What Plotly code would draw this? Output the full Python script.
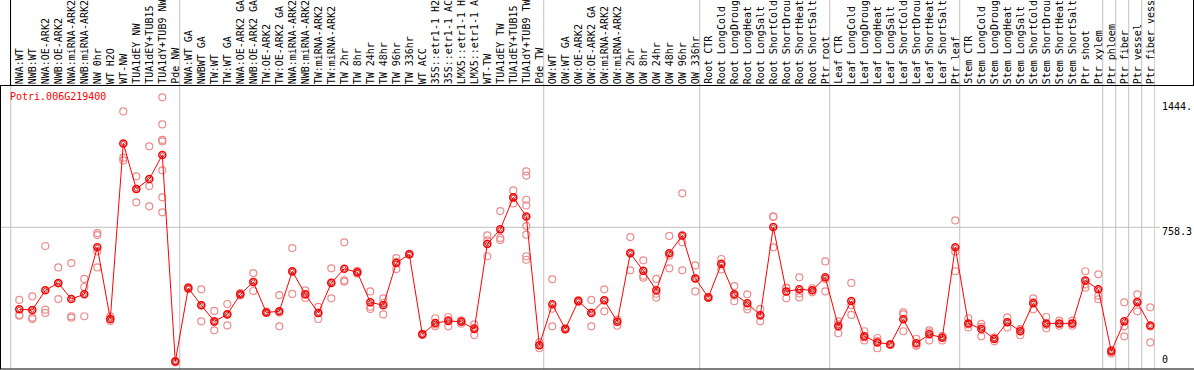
import plotly.graph_objects as go

W, H = 1194, 370

categories = [
    "NWA:WT", "NWB:WT", "NWA:OE-ARK2", "NWB:OE-ARK2", "NWA:miRNA-ARK2", "NWB:miRNA-ARK2",
    "NW 0hr", "WT H2O", "WT-NW", "TUA1dEY NW", "TUA1dEY+TUB15 NW", "TUA1dY+TUB9 NW", "Pde NW",
    "NWA:WT GA", "NWBWT GA", "TW:WT", "TW:WT GA", "NWA:OE-ARK2 GA", "NWB:OE-ARK2 GA",
    "TW:OE-ARK2", "TW:OE-ARK2 GA", "NWA:miRNA-ARK2 GA", "NWB:miRNA-ARK2 GA", "TW:miRNA-ARK2",
    "TW:miRNA-ARK2 GA", "TW 2hr", "TW 8hr", "TW 24hr", "TW 48hr", "TW 96hr", "TW 336hr", "WT ACC",
    "35S::etr1-1 H2O", "35S::etr1-1 ACC", "LMX5::etr1-1 H2O", "LMX5::etr1-1 ACC", "WT-TW",
    "TUA1dEY TW", "TUA1dEY+TUB15 TW", "TUA1dY+TUB9 TW", "Pde TW",
    "OW:WT", "OW:WT GA", "OW:OE-ARK2", "OW:OE-ARK2 GA", "OW:miRNA-ARK2", "OW:miRNA-ARK2 GA",
    "OW 2hr", "OW 8hr", "OW 24hr", "OW 48hr", "OW 96hr", "OW 336hr",
    "Root CTR", "Root LongCold", "Root LongDrought", "Root LongHeat", "Root LongSalt",
    "Root ShortCold", "Root ShortDrought", "Root ShortHeat", "Root ShortSalt", "Ptr root",
    "Leaf CTR", "Leaf LongCold", "Leaf LongDrought", "Leaf LongHeat", "Leaf LongSalt",
    "Leaf ShortCold", "Leaf ShortDrought", "Leaf ShortHeat", "Leaf ShortSalt", "Ptr leaf",
    "Stem CTR", "Stem LongCold", "Stem LongDrought", "Stem LongHeat", "Stem LongSalt",
    "Stem ShortCold", "Stem ShortDrought", "Stem ShortHeat", "Stem ShortSalt", "Ptr shoot", "Ptr xylem",
    "Ptr phloem", "Ptr fiber", "Ptr vessel", "Ptr fiber vessel",
]

mean_values = [
    310, 306, 414, 454, 366, 392, 649, 257, 1217, 968, 1022, 1154, 24,
    426, 332, 244, 282, 392, 459, 293, 299, 518, 392, 290, 454, 532, 512, 348, 332, 563, 611,
    173, 235, 246, 242, 202, 667, 747, 922, 818, 113,
    337, 202, 355, 290, 359, 242, 616, 521, 414, 616, 714, 479,
    375, 558, 392, 343, 277, 760, 408, 419, 414, 485,
    217, 355, 162, 129, 118, 255, 124, 173, 155, 649,
    233, 202, 148, 239, 190, 343, 233, 233, 233, 468, 419,
    80, 244, 348, 222,
]

replicates = [
    [361, 279, 275], [381, 264, 257], [656, 308, 290], [539, 366, 452], [563, 272, 264],
    [476, 432, 272], [727, 716, 627, 539], [272, 246, 255], [1392, 1139, 1124], [1037, 895, 968],
    [1201, 984, 873], [1469, 1321, 1236, 1228, 1070, 922, 840], [20, 26, 27],
    [432, 420, 426], [419, 244, 332], [301, 195, 240], [339, 222, 285], [399, 385, 392],
    [508, 410, 459], [290, 298, 291], [388, 217, 292], [645, 394, 515], [414, 372, 390],
    [323, 257, 290], [534, 370, 458], [676, 468, 461], [505, 520, 511], [408, 312, 324],
    [370, 282, 344], [590, 530, 569], [609, 613, 611], [169, 176, 174], [261, 217, 227],
    [268, 217, 253], [249, 231, 246], [228, 169, 209], [714, 600, 687], [847, 700, 689],
    [960, 889, 917], [1064, 1041, 909, 878, 765, 718, 600, 581], [129, 97, 113],
    [474, 313, 217], [202, 198, 206], [350, 360, 355], [361, 217, 292], [419, 299, 359],
    [253, 220, 253], [705, 523, 620], [578, 494, 483], [476, 395, 374], [711, 534, 603],
    [944, 676, 523], [550, 408, 479],
    [372, 378, 375], [585, 528, 561], [437, 354, 385], [392, 310, 327], [312, 244, 275],
    [818, 815, 649], [428, 370, 426], [485, 375, 397], [425, 403, 414], [572, 408, 475],
    [228, 179, 244], [454, 279, 332], [190, 140, 156], [153, 97, 137], [118, 120, 116],
    [293, 190, 282], [149, 111, 112], [195, 140, 184], [162, 140, 163], [796, 625, 518],
    [261, 211, 227], [230, 162, 214], [157, 135, 152], [266, 211, 240], [202, 168, 200],
    [370, 310, 349], [268, 206, 225], [248, 220, 231], [248, 220, 231], [518, 446, 428],
    [501, 385, 365],
    [87, 69, 84], [348, 217, 162], [392, 299, 353], [321, 129, 216],
]

group_starts = [0, 13, 41, 53, 63, 73, 84, 85, 86, 87, 88]
tick_labels = ["0", "758.3", "1444."]
tick_values = [0, 758.3, 1444]
gene_name = "Potri.006G219400"

# ---- layout geometry (pixels) ----
X0_PX, DX_PX = 19.3, 13.0          # pixel of category 0 and spacing
PLOT_L, PLOT_R = 1, 1155
PLOT_T, PLOT_B = 85, 369
Y_ZERO_PX, Y_SCALE = 366.0, 0.1829  # pixel of value 0, pixels per unit

def px(x):
    return x / W

def py(y):
    return 1 - y / H

x_lo = (PLOT_L - X0_PX) / DX_PX
x_hi = (PLOT_R - X0_PX) / DX_PX
y_lo = (Y_ZERO_PX - PLOT_B) / Y_SCALE
y_hi = (Y_ZERO_PX - PLOT_T) / Y_SCALE

idx = list(range(len(categories)))
rep_x, rep_y = [], []
for i, reps in enumerate(replicates):
    for v in reps:
        rep_x.append(i)
        rep_y.append(v)

fig = go.Figure()
fig.add_trace(go.Scatter(
    x=rep_x, y=rep_y, mode="markers",
    marker=dict(symbol="circle-open", size=7, color="rgb(236,140,140)",
                line=dict(width=1.2, color="rgb(236,140,140)")),
    hoverinfo="skip", cliponaxis=False,
))
fig.add_trace(go.Scatter(
    x=idx, y=mean_values, mode="lines+markers",
    line=dict(color="#ff0000", width=1),
    marker=dict(symbol="circle-open", size=7, color="#ff0000",
                line=dict(width=1.5, color="#ff0000")),
    cliponaxis=False,
))
fig.add_trace(go.Scatter(
    x=idx, y=mean_values, mode="markers",
    marker=dict(symbol="circle-open", size=4, color="#a00000",
                line=dict(width=0.7, color="#a00000")),
    hoverinfo="skip", cliponaxis=False,
))

shapes = []
for k in group_starts:
    shapes.append(dict(type="line", xref="x", yref="paper", x0=k - 0.66, x1=k - 0.66,
                       y0=py(PLOT_B), y1=1, line=dict(color="#c0c0c0", width=1), layer="below"))
shapes.append(dict(type="line", xref="paper", yref="y", x0=px(0), x1=px(1160),
                   y0=758.3, y1=758.3, line=dict(color="#c0c0c0", width=1), layer="below"))
black = dict(color="#000000", width=1)
shapes += [
    dict(type="line", xref="paper", yref="paper", x0=0, x1=1, y0=py(85.5), y1=py(85.5), line=black),
    dict(type="line", xref="paper", yref="paper", x0=px(10.5), x1=px(10.5), y0=py(85.5), y1=1, line=black),
    dict(type="line", xref="paper", yref="paper", x0=px(1193.5), x1=px(1193.5), y0=py(85.5), y1=1, line=black),
    dict(type="line", xref="paper", yref="paper", x0=px(0.5), x1=px(0.5), y0=py(369), y1=py(85.5), line=black),
    dict(type="line", xref="paper", yref="paper", x0=0, x1=1, y0=py(369), y1=py(369), line=black),
]

mono = "DejaVu Sans Mono"
annotations = []
for i, name in enumerate(categories):
    annotations.append(dict(
        x=i, y=py(85), xref="x", yref="paper", text=name, textangle=-90,
        xanchor="center", yanchor="bottom", showarrow=False, borderpad=0,
        font=dict(family=mono, size=10, color="#000000"),
    ))
annotations.append(dict(
    x=px(9), y=py(96), xref="paper", yref="paper", text=gene_name,
    xanchor="left", yanchor="middle", showarrow=False, borderpad=0,
    font=dict(family=mono, size=10, color="#ff0000"),
))
for val, lab in zip(tick_values, tick_labels):
    ypix = Y_ZERO_PX - val * Y_SCALE
    ypix = min(ypix, 355)
    annotations.append(dict(
        x=px(1161), y=py(ypix - 2), xref="paper", yref="paper", text=lab,
        xanchor="left", yanchor="top", showarrow=False, borderpad=0,
        font=dict(family=mono, size=10, color="#000000"),
    ))

fig.update_layout(
    width=W, height=H, margin=dict(l=0, r=0, t=0, b=0),
    paper_bgcolor="white", plot_bgcolor="white", showlegend=False,
    xaxis=dict(domain=[px(PLOT_L), px(PLOT_R)], range=[x_lo, x_hi], visible=False, fixedrange=True),
    yaxis=dict(domain=[py(PLOT_B), py(PLOT_T)], range=[y_lo, y_hi], visible=False, fixedrange=True),
    shapes=shapes, annotations=annotations,
)

fig.write_html(
    "out.html",
    config={"displayModeBar": False},
    post_script="document.body.style.margin='0';document.body.style.padding='0';"
                "document.body.style.overflow='hidden';",
)
